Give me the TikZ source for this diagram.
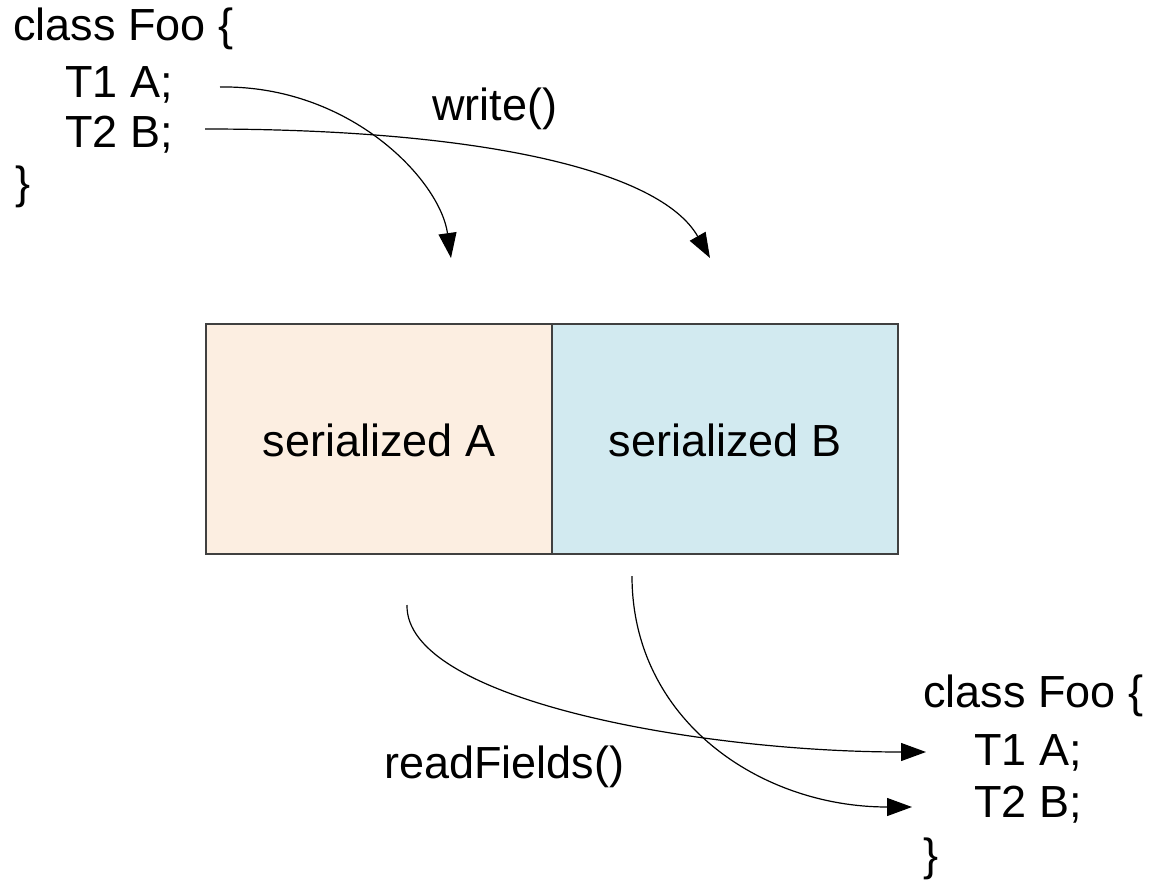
\documentclass[tikz,border=0pt]{standalone}
\usepackage{fontspec}
\setmainfont{Liberation Sans}
\usetikzlibrary{arrows.meta}
\definecolor{peach}{HTML}{FCEEE1}
\definecolor{paleblue}{HTML}{D2EAF0}
\definecolor{edge}{HTML}{404040}
\begin{document}
\begin{tikzpicture}[x=1pt,y=-1pt,
  code/.style={inner sep=0pt,anchor=base west,font=\fontsize{45pt}{54pt}\selectfont},
  field/.style={draw=edge,line width=1.3pt,inner sep=0pt},
  flow/.style={line width=1.2pt,-{Triangle[length=25pt,width=18pt]}}]
\useasboundingbox (0,0) rectangle (1151,881);

% source class
\node[code] (sclass) at (13,40)  {class Foo \{};
\node[code] (sa)     at (65,97)  {T1 A;};
\node[code] (sb)     at (65,147) {T2 B;};
\node[code] (sclose) at (15,198) {\}};

% target class
\node[code] (tclass) at (923,707) {class Foo \{};
\node[code] (ta)     at (974,765) {T1 A;};
\node[code] (tb)     at (974,817) {T2 B;};
\node[code] (tclose) at (923,870) {\}};

% serialized stream
\path[fill=peach]    (206,324) rectangle (552,554);
\path[fill=paleblue] (552,324) rectangle (898,554);
\draw[edge,line width=1.3pt] (206,324) rectangle (898,554);
\draw[edge,line width=1.3pt] (552,324) -- (552,554);
\node[code,anchor=center] (serA) at (379,440) {serialized A};
\node[code,anchor=center] (serB) at (725,440) {serialized B};

% operation labels
\node[code] (write) at (432,120) {write()};
\node[code] (read)  at (384,778) {readFields()};

% connector ends
\coordinate (w1s) at (220,87);
\coordinate (w1e) at (451,258);
\coordinate (w2s) at (205,129);
\coordinate (w2e) at (710,258);
\coordinate (r1s) at (407,605);
\coordinate (r1e) at (926,752);
\coordinate (r2s) at (632,576);
\coordinate (r2e) at (912,807);

% write() arrows
\draw[flow] (w1s) .. controls (350,85) and (440,180) .. (w1e);
\draw[flow] (w2s) .. controls (480,129) and (660,170) .. (w2e);

% readFields() arrows
\draw[flow] (r1s) .. controls (405,700) and (700,752) .. (r1e);
\draw[flow] (r2s) .. controls (632,720) and (760,807) .. (r2e);
\end{tikzpicture}
\end{document}
